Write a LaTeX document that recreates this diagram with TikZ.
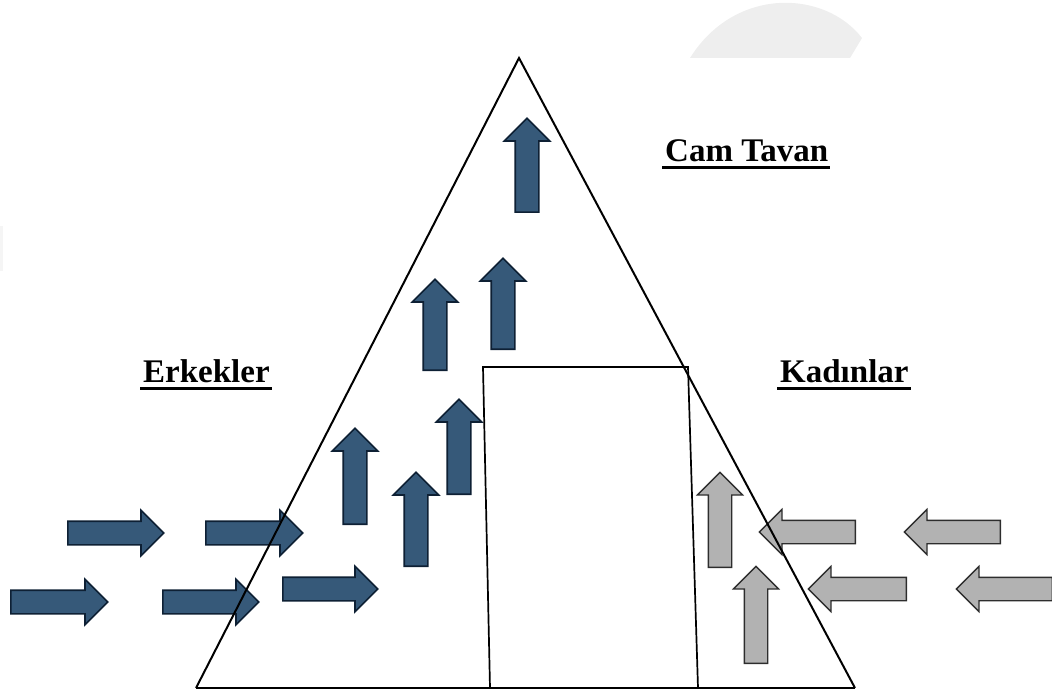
\documentclass[tikz,border=0pt]{standalone}
\usepackage{fontspec}
\setmainfont{Liberation Serif}
\usetikzlibrary{shapes.arrows,calc}
\definecolor{bluefill}{RGB}{54,89,121}
\definecolor{blueedge}{RGB}{14,32,52}
\definecolor{grayfill}{RGB}{178,178,178}
\definecolor{grayedge}{RGB}{45,45,45}
\definecolor{wmark}{RGB}{238,238,238}
\tikzset{
  x=1pt, y=-1pt,
  arrowbase/.style={single arrow, inner xsep=0pt, inner ysep=11pt, minimum width=44pt,
    single arrow head extend=11pt, minimum height=#1, line join=miter, anchor=tail},
  bluearrow/.style={arrowbase=#1, fill=bluefill, draw=blueedge, line width=1.6pt},
  grayarrow/.style={arrowbase=#1, fill=grayfill, draw=grayedge, line width=1.3pt},
  up/.style={rotate=90},
  left/.style={rotate=180},
  outline/.style={draw=black, line width=2pt, line join=miter},
  label/.style={anchor=base west, inner sep=0pt, font=\fontsize{33}{40}\selectfont\bfseries},
  uline/.style={line width=3pt}
}
\begin{document}
\begin{tikzpicture}
\useasboundingbox (0,0) rectangle (1052,695);
% faint background marks
\fill[wmark] (690,58) .. controls (735,-14) and (825,-10) .. (862,38) -- (850,58) -- cycle;
\fill[wmark!60!white] (0,226) rectangle (3,271);

% blue up arrows (placed by their tails)
\node[bluearrow=94pt, up] (u1) at (527,213) {};
\node[bluearrow=91pt, up] (u2) at (503,350) {};
\node[bluearrow=91pt, up] (u3) at (435,371) {};
\node[bluearrow=95pt, up] (u4) at (459,495) {};
\node[bluearrow=96pt, up] (u5) at (355,525) {};
\node[bluearrow=94pt, up] (u6) at (416,567) {};
% blue right arrows
\node[bluearrow=96pt] (ra) at (67,533) {};
\node[bluearrow=97pt] (rb) at (205,533) {};
\node[bluearrow=97pt] (rc) at (10,602) {};
\node[bluearrow=96pt] (rd) at (162,602) {};
\node[bluearrow=95pt] (re) at (282,589) {};
% gray left arrows
\node[grayarrow=96pt, left] (lf) at (856,532) {};
\node[grayarrow=96pt, left] (lg) at (1001,532) {};
\node[grayarrow=98pt, left] (lh) at (907,589) {};
\node[grayarrow=96pt, left] (li) at (1053,589) {};
% gray up arrows
\node[grayarrow=95pt, up] (gj) at (720,568) {};
\node[grayarrow=97pt, up] (gk) at (756,664) {};

% pyramid
\coordinate (apex) at (519,58);
\coordinate (bl) at (196,688);
\coordinate (br) at (855,688);
\draw[outline] (bl) -- (apex) -- (br);
\draw[outline, line width=2.6pt] (bl) -- (br);
% inner box
\coordinate (rbl) at (490,688);
\coordinate (rtl) at (483,367);
\coordinate (rtr) at (688,367);
\coordinate (rbr) at (698,688);
\draw[outline, line width=1.7pt] (rbl) -- (rtl) -- (rtr) -- (rbr);

% labels
\node[label] (cam) at (665,162) {Cam Tavan};
\node[label] (erk) at (143,382) {Erkekler};
\node[label] (kad) at (780,382) {Kadınlar};
\draw[uline] ($(cam.base west)+(-3,6)$) -- ($(cam.base east)+(2,6)$);
\draw[uline] ($(erk.base west)+(-3,6)$) -- ($(erk.base east)+(2,6)$);
\draw[uline] ($(kad.base west)+(-3,6)$) -- ($(kad.base east)+(2,6)$);
\end{tikzpicture}
\end{document}
